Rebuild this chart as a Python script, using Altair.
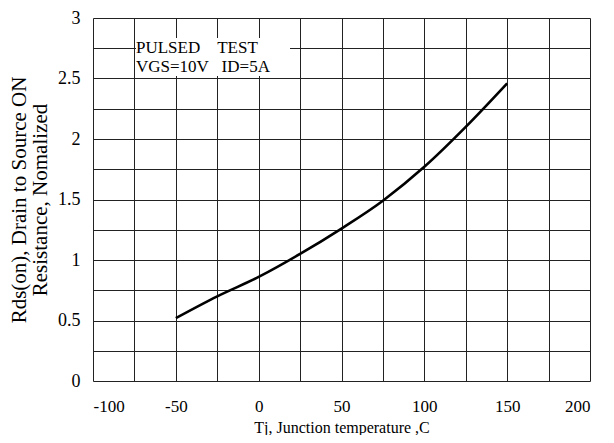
import altair as alt
import pandas as pd

temps = [-50, -25, 0, 25, 50, 75, 100, 125, 150]
rds = [0.52, 0.70, 0.86, 1.05, 1.26, 1.49, 1.77, 2.10, 2.46]

x_grid = list(range(-100, 201, 25))
y_grid = [i * 0.25 for i in range(13)]

NB = "\u00a0"
note_lines = ["PULSED" + NB * 4 + "TEST", "VGS=10V" + NB * 3 + "ID=5A"]

df = pd.DataFrame({"t": temps, "r": rds})

FONT = "Liberation Serif"

x_scale = alt.Scale(domain=[-100, 200], nice=False, zero=False)
y_scale = alt.Scale(domain=[0, 3], nice=False)

line = alt.Chart(df).mark_line(color="black", strokeWidth=2.6, interpolate="monotone").encode(
    x=alt.X("t:Q", scale=x_scale,
            axis=alt.Axis(values=x_grid, title="Tj, Junction temperature ,C",
                          labelExpr="datum.value % 50 == 0 ? '' + datum.value : ''",
                          ticks=False, labelPadding=17,
                          titleY=51, titleBaseline="alphabetic",
                          grid=True, gridColor="#222", gridWidth=1, gridOpacity=1,
                          domain=False, labelFont=FONT, labelFontSize=17, labelColor="black",
                          titleFont=FONT, titleFontSize=16, titleFontWeight="normal", titleColor="black")),
    y=alt.Y("r:Q", scale=y_scale,
            axis=alt.Axis(values=y_grid, title=["Rds(on), Drain to Source ON", "Resistance, Nomalized"],
                          labelExpr="datum.value % 0.5 == 0 ? '' + datum.value : ''",
                          ticks=False, labelPadding=13, titlePadding=7,
                          grid=True, gridColor="#222", gridWidth=1, gridOpacity=1,
                          domain=False, labelFont=FONT, labelFontSize=18, labelColor="black",
                          titleFont=FONT, titleFontSize=21, titleFontWeight="normal", titleColor="black",
                          titleLineHeight=21)),
)

box = alt.Chart(pd.DataFrame({"a": [0]})).mark_rect(color="white").encode(
    x=alt.value(43), x2=alt.value(197), y=alt.value(20), y2=alt.value(58)
)

note_df = pd.DataFrame({"txt": note_lines, "yy": [35, 54]})
note = alt.Chart(note_df).mark_text(align="left", baseline="alphabetic", font=FONT,
                                    fontSize=17, color="black").encode(
    x=alt.value(43), y=alt.Y("yy:Q", scale=None), text="txt:N"
)

chart = alt.layer(line, box, note).properties(
    width=497, height=363,
    autosize=alt.AutoSizeParams(type="none"),
    padding={"left": 85, "top": 10, "right": 16, "bottom": 54},
).configure_view(stroke="black", strokeWidth=1.5).configure(background="white")

chart.save("out.html", embed_options={"renderer": "svg", "actions": False})
